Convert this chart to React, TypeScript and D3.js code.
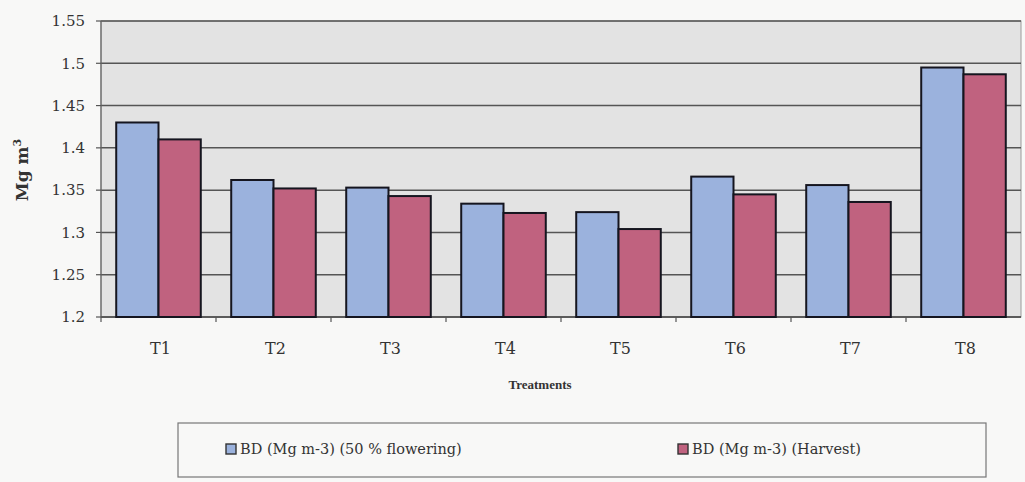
import React from "react";
import * as d3 from "d3";

const treatments = ["T1", "T2", "T3", "T4", "T5", "T6", "T7", "T8"];
const flowering = [1.43, 1.362, 1.353, 1.334, 1.324, 1.366, 1.356, 1.495];
const harvest = [1.41, 1.352, 1.343, 1.323, 1.304, 1.345, 1.336, 1.487];
const yTicks = [1.2, 1.25, 1.3, 1.35, 1.4, 1.45, 1.5, 1.55];
const seriesNames = ["BD (Mg m-3) (50 % flowering)", "BD (Mg m-3) (Harvest)"];
const seriesColors = ["#9bb2dd", "#c0627f"];

const W = 1025;
const H = 482;
const plot = { left: 101, right: 1021, top: 21, bottom: 317 };
const font = "'DejaVu Serif', 'Liberation Serif', serif";
const titleFont = "'Liberation Serif', 'Times New Roman', serif";
const textColor = "#333";

export default function App() {
  const x = d3.scaleBand<string>().domain(treatments).range([plot.left, plot.right]).paddingInner(0).paddingOuter(0);
  const inner = d3.scaleBand<number>().domain([0, 1]).range([0, x.bandwidth()]).paddingOuter(0.36).paddingInner(0);
  const y = d3.scaleLinear().domain([1.2, 1.55]).range([plot.bottom, plot.top]);
  const series = [flowering, harvest];
  const fmt = (v: number) => String(+v.toFixed(2));

  return (
    <svg width={W} height={H} style={{ position: "absolute", left: 0, top: 0 }}>
      <rect x={0} y={0} width={W} height={H} fill="#f8f8f7" />
      {/* plot background */}
      <rect x={plot.left} y={plot.top} width={plot.right - plot.left} height={plot.bottom - plot.top} fill="#e3e3e3" stroke="#9a9a9a" strokeWidth={1} />
      {/* gridlines */}
      {yTicks.map((t) => (
        <line key={t} x1={plot.left} x2={plot.right} y1={y(t)} y2={y(t)} stroke="#555" strokeWidth={1.5} />
      ))}
      {/* y axis */}
      <line x1={plot.left} x2={plot.left} y1={plot.top} y2={plot.bottom} stroke="#666" strokeWidth={1.2} />
      {yTicks.map((t) => (
        <g key={"yt" + t}>
          <line x1={plot.left - 5} x2={plot.left} y1={y(t)} y2={y(t)} stroke="#555" strokeWidth={1.2} />
          <text x={plot.left - 16} y={y(t)} dy="0.35em" textAnchor="end" fontFamily={font} fontSize={15} fill={textColor}>
            {fmt(t)}
          </text>
        </g>
      ))}
      {/* x axis */}
      <line x1={plot.left} x2={plot.right} y1={plot.bottom} y2={plot.bottom} stroke="#555" strokeWidth={1.5} />
      {treatments.map((c) => (
        <line key={"xt" + c} x1={x(c)!} x2={x(c)!} y1={plot.bottom} y2={plot.bottom + 5} stroke="#555" strokeWidth={1.2} />
      ))}
      {/* bars */}
      {treatments.map((c, i) =>
        series.map((s, j) => (
          <rect
            key={c + j}
            x={x(c)! + inner(j)!}
            y={y(s[i])}
            width={inner.bandwidth()}
            height={y(1.2) - y(s[i])}
            fill={seriesColors[j]}
            stroke="#15151f"
            strokeWidth={2}
          />
        ))
      )}
      {/* category labels */}
      {treatments.map((c) => (
        <text key={"xl" + c} x={x(c)! + x.bandwidth() / 2 + 2} y={354} textAnchor="middle" fontFamily={font} fontSize={16} fill={textColor}>
          {c}
        </text>
      ))}
      {/* axis titles */}
      <text x={540} y={389} textAnchor="middle" fontFamily={titleFont} fontSize={13} fontWeight="bold" fill={textColor}>
        Treatments
      </text>
      <text transform="translate(28,170) rotate(-90)" textAnchor="middle" fontFamily={font} fontSize={17} fontWeight="bold" fill={textColor}>
        Mg m<tspan dy="-7" fontSize={11}>3</tspan>
      </text>
      {/* legend */}
      <rect x={178} y={423} width={808} height={54} fill="#f8f8f7" stroke="#777" strokeWidth={1.2} />
      {seriesNames.map((n, j) => {
        const lx = j === 0 ? 226 : 678;
        return (
          <g key={n}>
            <rect x={lx} y={444} width={10} height={10} fill={seriesColors[j]} stroke="#333" strokeWidth={1.4} />
            <text x={lx + 14} y={454} fontFamily={font} fontSize={14.5} fill={textColor}>
              {n}
            </text>
          </g>
        );
      })}
    </svg>
  );
}
